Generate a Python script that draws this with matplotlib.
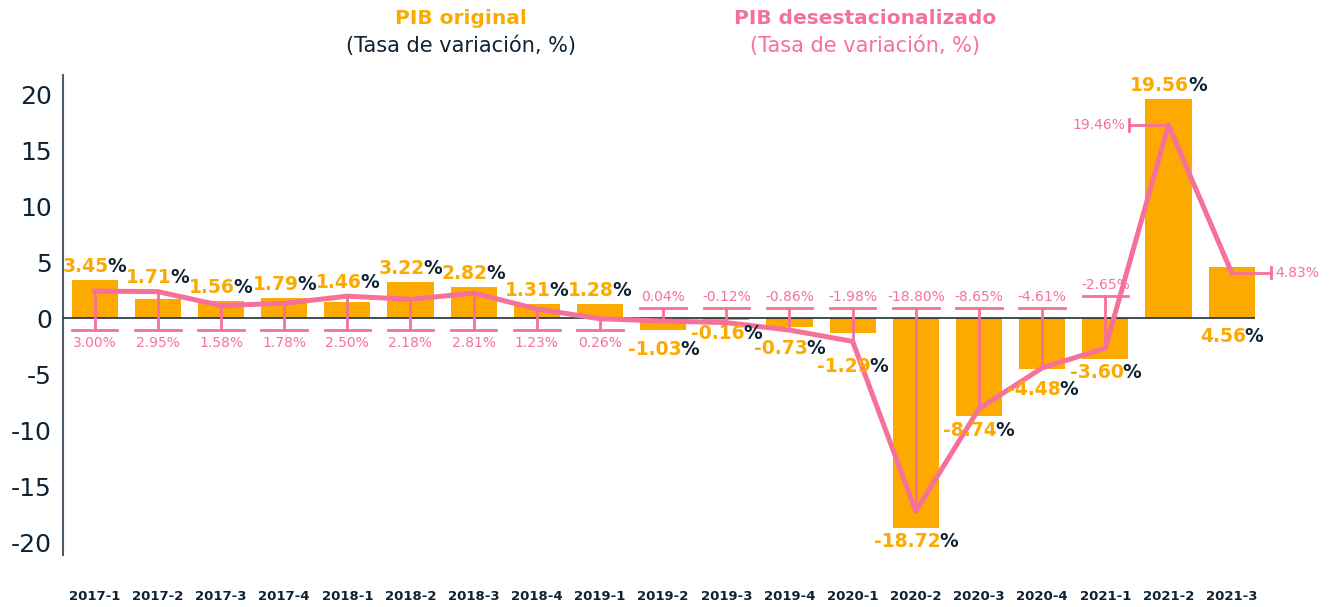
import matplotlib
matplotlib.use('Agg')
import matplotlib.pyplot as plt
from matplotlib.offsetbox import TextArea, HPacker, AnnotationBbox

# datos
trimestres = ['2017-1', '2017-2', '2017-3', '2017-4', '2018-1', '2018-2',
              '2018-3', '2018-4', '2019-1', '2019-2', '2019-3', '2019-4',
              '2020-1', '2020-2', '2020-3', '2020-4', '2021-1', '2021-2',
              '2021-3']
pib_original = [3.45, 1.71, 1.56, 1.79, 1.46, 3.22, 2.82, 1.31, 1.28, -1.03,
                -0.16, -0.73, -1.29, -18.72, -8.74, -4.48, -3.60, 19.56, 4.56]
pib_desest = [3.00, 2.95, 1.58, 1.78, 2.50, 2.18, 2.81, 1.23, 0.26, 0.04,
              -0.12, -0.86, -1.98, -18.80, -8.65, -4.61, -2.65, 19.46, 4.83]
y_ticks = [-20, -15, -10, -5, 0, 5, 10, 15, 20]

# donde va la etiqueta rosa de cada punto
callout = ['abajo'] * 9 + ['arriba'] * 7 + ['arriba_alto', 'izq', 'der']
# desplazamiento extra (pt) de algunas etiquetas naranjas para no pisarse
ajuste_etiqueta = {9: -4, 11: -6, 12: -8, 15: -5}

NARANJA = '#FDAA00'
ROSA = '#F6719A'
OSCURO = '#0E2233'

plt.rcParams['font.family'] = ['DejaVu Sans']

fig = plt.figure(figsize=(13.33, 6.07), dpi=100)
ax = fig.add_axes([0.0473, 0.0857, 0.8942, 0.7907])
x = list(range(len(trimestres)))

ax.bar(x, pib_original, width=0.73, color=NARANJA, zorder=2)
ax.axhline(0, color='#1F2F3D', lw=1.2, zorder=3)

ylo, yhi = -21.1, 21.7
ax.set_ylim(ylo, yhi)
ax.set_xlim(-0.5, 18.37)
ax.set_yticks(y_ticks)
ax.set_yticklabels([str(t) for t in y_ticks])
ax.tick_params(axis='y', length=0, pad=8, labelsize=18, labelcolor=OSCURO)
ax.set_xticks(x)
ax.set_xticklabels(trimestres, fontweight='bold')
ax.tick_params(axis='x', length=0, pad=25, labelsize=9.5, labelcolor=OSCURO)
for s in ['top', 'right', 'bottom']:
    ax.spines[s].set_visible(False)
ax.spines['left'].set_color('#4F5D6B')
ax.spines['left'].set_linewidth(1.5)

# serie desestacionalizada en eje secundario (escala algo distinta)
ax2 = ax.twinx()
esc, off = 0.9, -0.27
ax2.set_ylim((ylo - off) / esc, (yhi - off) / esc)
ax2.set_yticks([])
for s in ax2.spines.values():
    s.set_visible(False)

ax2.plot(x, pib_desest, color=ROSA, lw=3.6, zorder=4)

# niveles de los topes de las guias rosas (unidades del eje secundario)
cap_lo, cap_hi, cap_hi2 = -0.85, 1.3, 2.5
for i, v in enumerate(pib_desest):
    lado = callout[i]
    txt = f'{v:.2f}%'
    if lado in ('abajo', 'arriba', 'arriba_alto'):
        c = {'abajo': cap_lo, 'arriba': cap_hi, 'arriba_alto': cap_hi2}[lado]
        ax2.plot([i, i], [v, c], color=ROSA, lw=2, zorder=4)
        ax2.plot([i - 0.36, i + 0.36], [c, c], color=ROSA, lw=2, zorder=4)
        dy = -4 if lado == 'abajo' else 3
        ax2.annotate(txt, (i, c), xytext=(0, dy), textcoords='offset points',
                     ha='center', va='top' if lado == 'abajo' else 'bottom',
                     fontsize=10, color=ROSA, zorder=5)
    else:
        s = -1 if lado == 'izq' else 1
        xe = i + s * 0.62
        ax2.plot([i, xe], [v, v], color=ROSA, lw=2, zorder=4, clip_on=False)
        ax2.plot([xe, xe], [v - 0.55, v + 0.55], color=ROSA, lw=2, zorder=4,
                 clip_on=False)
        ax2.annotate(txt, (xe, v), xytext=(s * 3, 0), textcoords='offset points',
                     ha='right' if lado == 'izq' else 'left', va='center',
                     fontsize=10, color=ROSA, zorder=5, annotation_clip=False)

# etiquetas de las barras: numero naranja + % oscuro
for i, v in enumerate(pib_original):
    caja = HPacker(children=[
        TextArea(f'{v:.2f}', textprops=dict(color=NARANJA, fontsize=13.5,
                                            fontweight='bold')),
        TextArea('%', textprops=dict(color=OSCURO, fontsize=13.5,
                                     fontweight='bold')),
    ], align='baseline', pad=0, sep=-1)
    # punto de la linea rosa en unidades del eje principal
    yp = esc * pib_desest[i] + off
    if i == len(pib_original) - 1:
        # la ultima va debajo del eje, la rosa ocupa el lado derecho
        xy, dy, al = (i, 0), -6, (0.5, 1)
    elif v >= 0:
        xy, dy, al = (i, max(v, yp)), 3, (0.5, 0)
    else:
        # debajo de la barra, o de la linea si esta baja bastante mas
        ya = yp if yp < v - 0.5 else v
        xy, dy, al = (i, ya), -3, (0.5, 1)
    dy += ajuste_etiqueta.get(i, 0)
    ab = AnnotationBbox(caja, xy, xycoords=ax.transData, xybox=(0, dy),
                        boxcoords='offset points', box_alignment=al,
                        frameon=False, pad=0, zorder=6)
    ax2.add_artist(ab)

# cabecera
fig.text(461 / 1333, 1 - 18 / 607, 'PIB original', ha='center', va='center',
         fontsize=14.5, fontweight='bold', color=NARANJA)
fig.text(461 / 1333, 1 - 46 / 607, '(Tasa de variación, %)', ha='center',
         va='center', fontsize=15, color=OSCURO)
fig.text(865 / 1333, 1 - 18 / 607, 'PIB desestacionalizado', ha='center',
         va='center', fontsize=14.5, fontweight='bold', color=ROSA)
fig.text(865 / 1333, 1 - 46 / 607, '(Tasa de variación, %)', ha='center',
         va='center', fontsize=15, color=ROSA)

fig.savefig('out.png', dpi=100, facecolor='white')
